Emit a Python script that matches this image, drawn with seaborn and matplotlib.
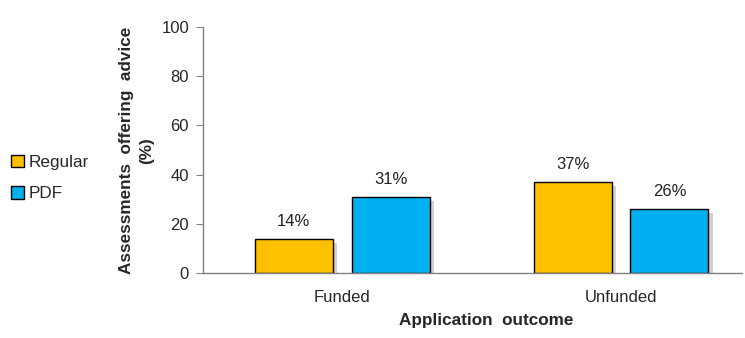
import matplotlib
matplotlib.use("Agg")
import matplotlib.pyplot as plt
import matplotlib.patheffects as pe
import seaborn as sns
import pandas as pd

categories = ["Funded", "Unfunded"]
series = ["Regular", "PDF"]
regular_vals = [14, 37]
pdf_vals = [31, 26]
colors = {"Regular": "#FFC000", "PDF": "#00B0F0"}

df = pd.DataFrame({
    "outcome": categories * 2,
    "type": ["Regular"] * 2 + ["PDF"] * 2,
    "value": regular_vals + pdf_vals,
})

sns.set_style("white")
plt.rcParams["font.family"] = ["Liberation Sans", "DejaVu Sans"]

fig = plt.figure(figsize=(7.45, 3.38), dpi=100)
ax = fig.add_axes([203 / 745, 65 / 338, 539 / 745, 246 / 338])

sns.barplot(data=df, x="outcome", y="value", hue="type", order=categories,
            hue_order=series, palette=colors, width=0.695, gap=0.195,
            edgecolor="black", linewidth=1.0, saturation=1, ax=ax)

handles, labels = ax.get_legend_handles_labels()

for p in ax.patches:
    p.set_path_effects([pe.SimplePatchShadow(offset=(3, -3), shadow_rgbFace="#999999", alpha=0.45), pe.Normal()])

for cont in ax.containers:
    ax.bar_label(cont, labels=[f"{v:.0f}%" for v in cont.datavalues], padding=7, fontsize=12, color="#222222")

ax.set_ylim(0, 100)
ax.set_yticks([0, 20, 40, 60, 80, 100])
ax.set_xlim(-0.5, 1.434)
ax.tick_params(axis="y", which="both", left=True, length=5, color="#808080", labelsize=12, pad=5)
ax.tick_params(axis="x", bottom=False, labelsize=12, pad=9)
for s in ["top", "right"]:
    ax.spines[s].set_visible(False)
for s in ["left", "bottom"]:
    ax.spines[s].set_color("#808080")
    ax.spines[s].set_linewidth(1.0)

ax.set_xlabel("")
fig.text(486 / 745, 1 - 321 / 338, "Application  outcome", fontsize=12.3, fontweight="bold",
         ha="center", va="center")
ax.set_ylabel("")
fig.text(126 / 745, 1 - 150 / 338, "Assessments  offering  advice", fontsize=12.3, fontweight="bold",
         ha="center", va="center", rotation=90)
fig.text(147 / 745, 1 - 151 / 338, "(%)", fontsize=12.3, fontweight="bold",
         ha="center", va="center", rotation=90)

leg = ax.legend(handles, labels, loc="center left", bbox_to_anchor=(-4 / 745, 1 - 178 / 338),
          bbox_transform=fig.transFigure, frameon=False, fontsize=12.3,
          handlelength=0.75, handleheight=0.75, handletextpad=0.25, labelspacing=0.95)
for h in leg.legend_handles:
    h.set_path_effects([])
    h.set_linewidth(1.0)

fig.savefig("out.png", dpi=100)
